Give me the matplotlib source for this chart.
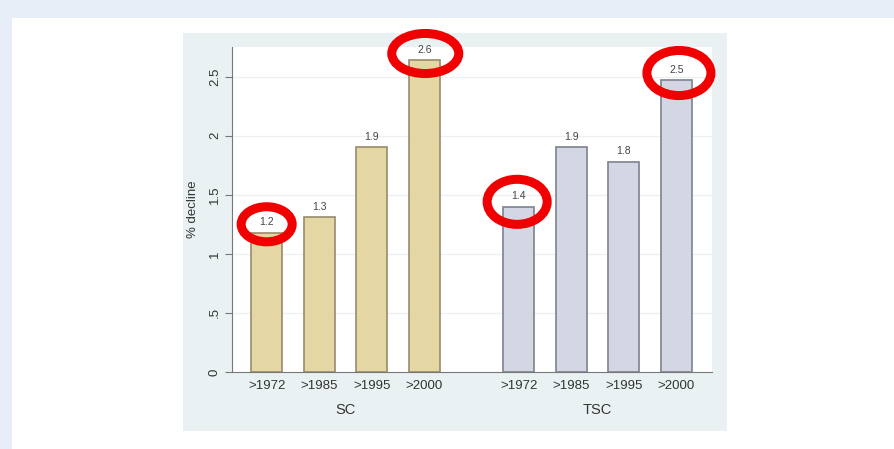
import matplotlib.pyplot as plt
from matplotlib.patches import Ellipse, Rectangle

plt.rcParams['font.family'] = ['Liberation Sans', 'DejaVu Sans']

periods = [">1972", ">1985", ">1995", ">2000"]
groups = ["SC", "TSC"]
sc_values = [1.18, 1.31, 1.90, 2.64]
tsc_values = [1.40, 1.90, 1.78, 2.47]
yticks = [0, 0.5, 1, 1.5, 2, 2.5]
ytick_labels = ["0", ".5", "1", "1.5", "2", "2.5"]

W, H = 894, 449
fig = plt.figure(figsize=(W / 100, H / 100), dpi=100)
fig.patch.set_facecolor("white")

# page frame and grey graph region
fig.patches.append(Rectangle((0, 1 - 18 / H), 1, 18 / H, transform=fig.transFigure,
                             facecolor="#e7eef8", edgecolor="none", zorder=-3))
fig.patches.append(Rectangle((0, 0), 12 / W, 1, transform=fig.transFigure,
                             facecolor="#e7eef8", edgecolor="none", zorder=-3))
fig.patches.append(Rectangle((183 / W, 1 - 431 / H), (727 - 183) / W, (431 - 33) / H,
                             transform=fig.transFigure, facecolor="#eaf1f2",
                             edgecolor="none", zorder=-2))

ax = fig.add_axes([232 / W, 1 - 372 / H, (712 - 232) / W, (372 - 47) / H])
ax.set_facecolor("white")

sc_x = [0, 1, 2, 3]
tsc_x = [4.8, 5.8, 6.8, 7.8]
bw = 0.59
ax.bar(sc_x, sc_values, width=bw, color="#e5d7a4", edgecolor="#968b6c", linewidth=1.2, zorder=3)
ax.bar(tsc_x, tsc_values, width=bw, color="#d3d7e3", edgecolor="#7e828e", linewidth=1.2, zorder=3)

for xs, vals in [(sc_x, sc_values), (tsc_x, tsc_values)]:
    for x, v in zip(xs, vals):
        ax.text(x, v + 0.045, f"{v:.1f}", ha="center", va="bottom", fontsize=7.5,
                color="#444444", zorder=4)

ax.set_xlim(-0.66, 8.48)
ax.set_ylim(0, 2.75)
ax.set_yticks(yticks)
ax.set_yticklabels(ytick_labels, rotation=90, va="center")
ax.tick_params(axis="y", direction="out", length=5, color="#777777",
               labelsize=9.5, labelcolor="#333333", pad=3)
ax.set_xticks(sc_x + tsc_x)
ax.set_xticklabels(periods + periods)
ax.tick_params(axis="x", length=0, labelsize=9.5, labelcolor="#333333", pad=6)
for y in yticks[1:]:
    ax.axhline(y, color="#eef0f0", linewidth=1, zorder=1)

for s in ["top", "right"]:
    ax.spines[s].set_visible(False)
ax.spines["left"].set_color("#777777")
ax.spines["bottom"].set_color("#777777")

ax.set_ylabel("% decline", fontsize=9.5, color="#333333", labelpad=7)
ax.text(sum(sc_x) / 4, -0.32, groups[0], ha="center", va="center", fontsize=10.5,
        color="#333333", transform=ax.transData)
ax.text(sum(tsc_x) / 4, -0.32, groups[1], ha="center", va="center", fontsize=10.5,
        color="#333333", transform=ax.transData)

# red highlight rings drawn over the chart
px_x = 52.5
px_y = 118.0
rings = [(sc_x[0], sc_values[0] + 0.07, 51, 35),
         (sc_x[3] + 0.02, sc_values[3] + 0.055, 67, 40),
         (tsc_x[0] - 0.03, tsc_values[0] + 0.04, 60, 45),
         (tsc_x[3] + 0.05, tsc_values[3] + 0.06, 64, 45)]
for cx, cy, w, h in rings:
    ax.add_patch(Ellipse((cx, cy), w / px_x, h / px_y, facecolor="none",
                         edgecolor="#f00000", linewidth=6.5, clip_on=False, zorder=6))

fig.savefig("out.png", dpi=100)
